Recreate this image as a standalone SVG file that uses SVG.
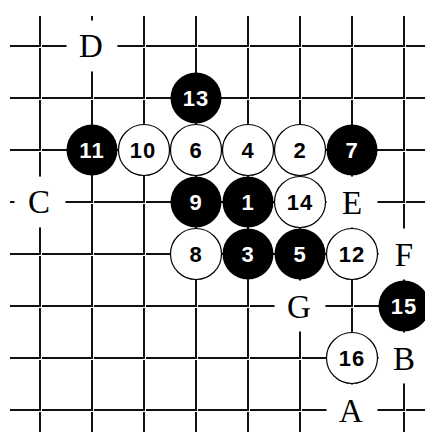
<svg xmlns="http://www.w3.org/2000/svg" width="425" height="432" viewBox="0 0 425 432">
<style>
.h{stroke:#111;stroke-width:2;stroke-dasharray:51 1;stroke-dashoffset:20;fill:none}
.bg{fill:#fff}
.lbl{font-family:"Liberation Serif","Times New Roman",serif;font-size:33px;fill:#000;text-anchor:middle}
.b{fill:#000}
.w{fill:#fff;stroke:#000;stroke-width:1.2}
.nb{font-family:"Liberation Sans",Arial,sans-serif;font-weight:bold;font-size:22px;fill:#fff;text-anchor:middle;letter-spacing:1px}
.nw{font-family:"Liberation Sans",Arial,sans-serif;font-weight:bold;font-size:22px;fill:#000;text-anchor:middle;letter-spacing:1px}
</style>
<rect width="425" height="432" fill="#fff"/>
<g id="grid">
<path class="h" d="M10 46H425M10 98H425M10 150H425M10 202H425M10 254H425M10 306H425M10 358H425M10 410H425"/>
<path class="h" d="M40 16V432M92 16V432M144 16V432M196 16V432M248 16V432M300 16V432M352 16V432M404 16V432"/>
</g>
<g id="label-D"><circle class="bg" cx="92" cy="46" r="25.5"/><text class="lbl" x="91" y="57">D</text></g>
<g id="label-C"><circle class="bg" cx="40" cy="202" r="25.5"/><text class="lbl" x="39" y="213">C</text></g>
<g id="label-E"><circle class="bg" cx="352" cy="202" r="25.5"/><text class="lbl" x="352" y="213.5">E</text></g>
<g id="label-F"><circle class="bg" cx="404" cy="254" r="25.5"/><text class="lbl" x="404" y="265.5">F</text></g>
<g id="label-G"><circle class="bg" cx="300" cy="306" r="25.5"/><text class="lbl" x="299" y="317.5">G</text></g>
<g id="label-B"><circle class="bg" cx="404" cy="358" r="25.5"/><text class="lbl" x="404" y="369.5">B</text></g>
<g id="label-A"><circle class="bg" cx="352" cy="410" r="25.5"/><text class="lbl" x="351" y="421.5">A</text></g>
<g id="s1"><circle class="b" cx="248" cy="202" r="25.5"/><text class="nb" x="248" y="209.5">1</text></g>
<g id="s2"><circle class="w" cx="300" cy="150" r="25.5"/><text class="nw" x="300" y="157.5">2</text></g>
<g id="s3"><circle class="b" cx="248" cy="254" r="25.5"/><text class="nb" x="248" y="261.5">3</text></g>
<g id="s4"><circle class="w" cx="248" cy="150" r="25.5"/><text class="nw" x="248" y="157.5">4</text></g>
<g id="s5"><circle class="b" cx="300" cy="254" r="25.5"/><text class="nb" x="300" y="261.5">5</text></g>
<g id="s6"><circle class="w" cx="196" cy="150" r="25.5"/><text class="nw" x="196" y="157.5">6</text></g>
<g id="s7"><circle class="b" cx="352" cy="150" r="25.5"/><text class="nb" x="352" y="157.5">7</text></g>
<g id="s8"><circle class="w" cx="196" cy="254" r="25.5"/><text class="nw" x="196" y="261.5">8</text></g>
<g id="s9"><circle class="b" cx="196" cy="202" r="25.5"/><text class="nb" x="196" y="209.5">9</text></g>
<g id="s10"><circle class="w" cx="144" cy="150" r="25.5"/><text class="nw" x="143" y="157.5">10</text></g>
<g id="s11"><circle class="b" cx="92" cy="150" r="25.5"/><text class="nb" x="92" y="157.5">11</text></g>
<g id="s12"><circle class="w" cx="352" cy="254" r="25.5"/><text class="nw" x="352" y="261.5">12</text></g>
<g id="s13"><circle class="b" cx="196" cy="98" r="25.5"/><text class="nb" x="196" y="105.5">13</text></g>
<g id="s14"><circle class="w" cx="300" cy="202" r="25.5"/><text class="nw" x="300" y="209.5">14</text></g>
<g id="s15"><circle class="b" cx="404" cy="306" r="25.5"/><text class="nb" x="404" y="313.5">15</text></g>
<g id="s16"><circle class="w" cx="352" cy="358" r="25.5"/><text class="nw" x="352" y="365.5">16</text></g>
</svg>
